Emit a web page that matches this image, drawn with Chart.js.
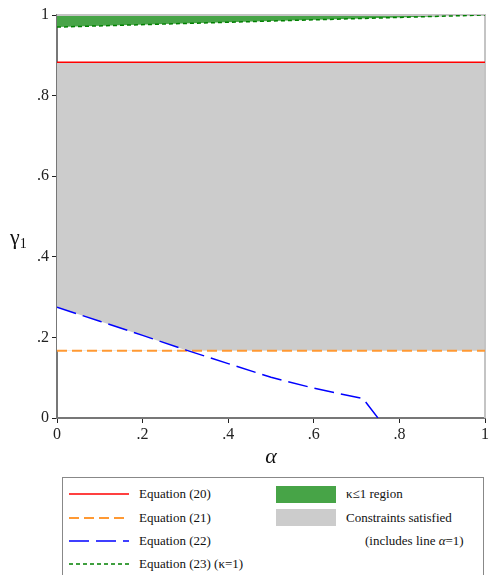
<!DOCTYPE html>
<html lang="en">
<head>
    <meta charset="UTF-8">
    <title>Constraint regions</title>
    <script src="https://cdn.jsdelivr.net/npm/chart.js"></script>
    <style>
        body { margin: 0; background: #fff; font-family: "Liberation Serif", "DejaVu Serif", serif; }
        #wrap { position: absolute; left: 0; top: 0; width: 491px; height: 470px; }
        #ytitle { position: absolute; left: 10px; top: 224px; font-size: 22px; color: #111; }
        #ytitle sub { font-size: 14px; vertical-align: -4px; }
        #legend { position: absolute; left: 62px; top: 477px; width: 420px; height: 120px; border: 1px solid #888; }
        .item { position: absolute; font-size: 13px; color: #111; line-height: 16px; white-space: nowrap; }
        .swatch { position: absolute; width: 60px; height: 17px; }
    </style>
</head>
<body>
    <div id="wrap"><canvas id="chart"></canvas></div>
    <div id="ytitle">&gamma;<sub>1</sub></div>
    <div id="legend"></div>
    <script>
        // values
        const alphaRange = [0, 1];
        const eq20 = [0.883, 0.883];          // red
        const eq21 = [0.167, 0.167];          // orange
        const eq22Alpha = [0, 0.1, 0.2, 0.3, 0.4, 0.5, 0.6, 0.715, 0.75];
        const eq22 = [0.275, 0.24, 0.205, 0.169, 0.135, 0.101, 0.074, 0.048, 0];
        const eq23 = [0.97, 1.0];             // green, kappa = 1

        const lineLabels = ['Equation (20)', 'Equation (21)', 'Equation (22)', 'Equation (23) (\u03ba=1)'];
        const lineColors = ['#ff0000', '#ff9933', '#0000ff', '#008000'];
        const lineDash = [[], [10, 5], [20, 7], [4, 3]];
        const areaLabels = ['\u03ba\u22641 region', 'Constraints satisfied'];
        const areaColors = ['#47a447', '#cccccc'];

        const pts = (xs, ys) => xs.map((x, i) => ({ x: x, y: ys[i] }));

        // light frame on top and right
        const framePlugin = {
            id: 'frame',
            beforeDatasetsDraw(chart) {
                const a = chart.chartArea, c = chart.ctx;
                c.save();
                c.strokeStyle = '#c4c4c4';
                c.lineWidth = 2;
                c.beginPath();
                c.moveTo(a.left, a.top);
                c.lineTo(a.right, a.top);
                c.lineTo(a.right, a.bottom);
                c.stroke();
                c.restore();
            }
        };

        const tickFmt = v => {
            if (Math.abs(v) < 1e-9) return '0';
            if (Math.abs(v - 1) < 1e-9) return '1';
            return (+v.toFixed(1)).toString().replace(/^0/, '');
        };
        const axisFont = { family: '"Liberation Serif", serif', size: 16 };

        new Chart(document.getElementById('chart'), {
            type: 'scatter',
            data: {
                datasets: [
                    {   // Equation (23), fill up to 1
                        data: pts(alphaRange, eq23),
                        borderColor: lineColors[3], borderDash: lineDash[3], borderWidth: 1.5,
                        fill: 'end', backgroundColor: areaColors[0]
                    },
                    {   // Equation (22), blank out area between it and (21)
                        data: pts(eq22Alpha, eq22),
                        borderColor: lineColors[2], borderDash: lineDash[2], borderWidth: 1.5,
                        fill: { target: 3, above: '#ffffff', below: 'rgba(0,0,0,0)' }
                    },
                    {   // Equation (20)
                        data: pts(alphaRange, eq20),
                        borderColor: lineColors[0], borderWidth: 1.5, fill: false
                    },
                    {   // Equation (21), satisfied region up to (20)
                        data: pts(alphaRange, eq21),
                        borderColor: lineColors[1], borderDash: lineDash[1], borderWidth: 2,
                        fill: { target: 2, above: areaColors[1], below: areaColors[1] }
                    }
                ]
            },
            options: {
                responsive: true,
                maintainAspectRatio: false,
                animation: false,
                showLine: true,
                elements: { point: { radius: 0, hoverRadius: 0 }, line: { tension: 0 } },
                layout: { padding: { top: 15, right: 4, left: 0, bottom: 0 } },
                plugins: {
                    legend: { display: false },
                    tooltip: { enabled: false },
                    filler: { drawTime: 'beforeDatasetsDraw' }
                },
                scales: {
                    x: {
                        type: 'linear', min: 0, max: 1,
                        ticks: { stepSize: 0.2, callback: tickFmt, color: '#222', font: axisFont, padding: 2, maxRotation: 0 },
                        grid: { drawOnChartArea: false, drawTicks: true, tickLength: 5, color: '#222' },
                        border: { color: '#777', width: 2 },
                        title: { display: true, text: '\u03b1', color: '#111', padding: 0,
                                 font: { family: '"Liberation Serif", serif', size: 22, style: 'italic' } },
                        afterFit: s => { s.height = 52; }
                    },
                    y: {
                        min: 0, max: 1,
                        ticks: { stepSize: 0.2, callback: tickFmt, color: '#222', font: axisFont, padding: 3 },
                        grid: { drawOnChartArea: false, drawTicks: true, tickLength: 5, color: '#222' },
                        border: { color: '#777', width: 2 },
                        afterFit: s => { s.width = 57; }
                    }
                }
            },
            plugins: [framePlugin]
        });

        // legend box
        const legend = document.getElementById('legend');
        const rowY = [16, 39.5, 63, 86];   // row centres inside the box
        lineLabels.forEach((lab, i) => {
            const svg = document.createElementNS('http://www.w3.org/2000/svg', 'svg');
            svg.setAttribute('width', 60); svg.setAttribute('height', 6);
            svg.style.position = 'absolute';
            svg.style.left = '6px'; svg.style.top = (rowY[i] - 3) + 'px';
            const ln = document.createElementNS('http://www.w3.org/2000/svg', 'line');
            ln.setAttribute('x1', 0); ln.setAttribute('x2', 60);
            ln.setAttribute('y1', 3); ln.setAttribute('y2', 3);
            ln.setAttribute('stroke', lineColors[i]);
            ln.setAttribute('stroke-width', i === 1 ? 2 : 1.5);
            if (lineDash[i].length) ln.setAttribute('stroke-dasharray', lineDash[i].join(' '));
            svg.appendChild(ln);
            legend.appendChild(svg);
            const t = document.createElement('div');
            t.className = 'item';
            t.textContent = lab;
            t.style.left = '76px'; t.style.top = (rowY[i] - 8) + 'px';
            legend.appendChild(t);
        });
        areaLabels.forEach((lab, i) => {
            const sw = document.createElement('div');
            sw.className = 'swatch';
            sw.style.background = areaColors[i];
            sw.style.left = '213px'; sw.style.top = (rowY[i] - 8.5) + 'px';
            legend.appendChild(sw);
            const t = document.createElement('div');
            t.className = 'item';
            t.textContent = lab;
            t.style.left = '283px'; t.style.top = (rowY[i] - 8) + 'px';
            legend.appendChild(t);
        });
        const note = document.createElement('div');
        note.className = 'item';
        note.innerHTML = '(includes line <i>&alpha;</i>=1)';
        note.style.left = '302px'; note.style.top = (rowY[2] - 8) + 'px';
        legend.appendChild(note);
    </script>
</body>
</html>
